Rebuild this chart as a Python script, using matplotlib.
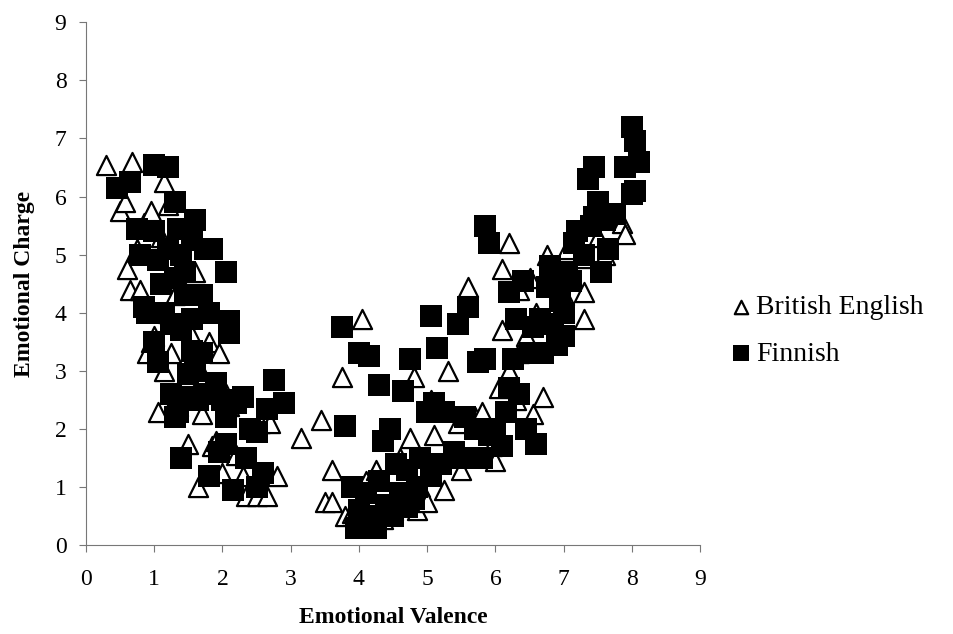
import matplotlib.pyplot as plt

plt.rcParams['font.family'] = ['Liberation Serif', 'DejaVu Serif']

# British English (triangles)
eng_x = [0.3, 0.68, 0.5, 0.58, 0.6, 0.65, 0.8, 0.75, 0.85, 0.95, 1.15, 1.2, 1.1, 0.9, 0.95, 0.9, 1.0,
         1.05, 1.15, 1.25, 1.3, 1.35, 1.4, 1.5, 1.6, 1.7, 1.65, 1.8, 1.85, 1.95, 2.0, 2.05, 2.1, 2.3,
         2.35, 2.5, 2.65, 2.55, 2.7, 2.8, 1.9, 2.2, 1.45, 1.55, 1.2, 1.3, 1.7,
         3.15, 3.45, 3.5, 3.6, 3.6, 3.75, 3.8, 3.9, 4.05, 4.0, 4.1, 4.2, 4.25, 4.35, 4.5, 4.6, 4.75,
         4.8, 4.85, 4.9, 5.0, 5.05, 5.1, 5.25, 5.3, 5.45, 5.5, 5.6, 5.7, 5.8, 5.95, 6.0, 6.05, 6.1,
         6.1, 6.2, 6.3, 6.35, 6.35, 6.5, 6.55, 6.7, 6.75, 6.9, 7.0, 7.05, 7.3, 7.3, 7.3, 7.5, 7.6,
         7.85, 7.9, 6.6, 6.2, 6.45]
eng_y = [6.55, 6.6, 5.75, 5.9, 4.75, 4.4, 4.4, 5.1, 5.55, 5.75, 6.25, 5.85, 5.3, 4.1, 3.5, 3.3, 3.6,
         2.3, 3.0, 3.3, 2.6, 2.4, 4.5, 1.75, 4.7, 2.25, 1.0, 3.5, 1.7, 3.3, 1.25, 2.6, 2.4, 1.2,
         0.85, 0.85, 0.85, 2.1, 2.1, 1.2, 1.8, 1.55, 2.9, 3.6, 4.0, 4.3, 2.95,
         1.85, 2.15, 0.75, 0.75, 1.3, 2.9, 0.5, 0.55, 3.9, 0.45, 1.1, 0.4, 1.3, 0.45, 0.6, 1.5, 1.85,
         2.9, 0.6, 1.0, 0.75, 2.5, 1.9, 0.95, 3.0, 2.1, 1.3, 4.45, 2.2, 2.3, 1.7, 1.45, 2.7, 3.7,
         4.75, 5.2, 2.5, 4.4, 3.3, 4.6, 2.25, 2.55, 5.0, 3.7, 4.3, 5.1, 4.35, 3.9, 4.95, 5.3, 5.0,
         5.55, 5.35, 4.0, 3.0, 3.6]

# Finnish (squares)
fin_x = [0.45, 0.65, 0.75, 0.8, 1.0, 1.2, 1.3, 0.85, 0.9, 1.0, 1.05, 1.1, 1.0, 1.05, 1.2, 1.25, 1.3,
         1.35, 1.4, 1.4, 1.45, 1.5, 1.55, 1.6, 1.55, 1.7, 1.7, 1.75, 1.85, 1.8, 1.3, 1.35, 1.4, 1.25,
         1.5, 1.65, 1.75, 1.8, 1.9, 2.0, 2.05, 2.1, 2.1, 2.05, 2.15, 2.2, 2.3, 2.4, 2.5, 2.5, 2.35,
         2.6, 2.65, 2.75, 2.9, 1.95, 1.15, 1.45, 1.55, 1.6, 2.05,
         3.75, 3.8, 4.0, 4.15, 4.3, 4.75, 4.65, 5.05, 5.15, 5.45, 5.6, 5.75, 5.85, 5.85, 5.9, 3.9,
         4.0, 4.1, 4.2, 4.3, 4.35, 4.4, 4.45, 4.55, 4.6, 4.7, 4.8, 4.9, 5.0, 5.05, 5.1, 5.2, 5.25,
         5.4, 5.5, 5.55, 5.65, 5.7, 5.8, 5.9, 6.0, 3.95, 4.05, 4.25, 4.5, 4.7, 4.85,
         6.1, 6.15, 6.2, 6.2, 6.3, 6.35, 6.4, 6.45, 6.5, 6.55, 6.6, 6.65, 6.7, 6.75, 6.8, 6.85, 6.9,
         7.0, 7.05, 7.1, 7.15, 7.2, 7.3, 7.4, 7.45, 7.5, 7.35, 7.45, 7.6, 7.65, 7.75, 7.9, 8.0, 8.05,
         8.0, 8.05, 8.1, 7.55, 6.95, 6.25, 7.0, 6.85]
fin_y = [6.15, 6.25, 5.45, 5.0, 6.55, 6.5, 5.9, 4.1, 4.0, 5.4, 4.9, 4.5, 3.5, 3.15, 5.1, 3.8, 4.6,
         5.45, 5.0, 3.7, 4.7, 2.55, 5.25, 5.6, 3.9, 4.3, 3.3, 5.1, 5.1, 4.0, 2.2, 2.3, 1.5, 2.6,
         2.95, 2.5, 2.6, 1.2, 2.8, 2.5, 4.7, 3.85, 3.65, 2.2, 0.95, 2.45, 2.55, 2.0, 1.95, 1.0, 1.5,
         1.25, 2.35, 2.85, 2.45, 1.6, 4.0, 4.3, 3.35, 3.0, 1.75,
         3.75, 2.05, 3.3, 3.25, 2.75, 3.2, 2.65, 3.95, 3.4, 3.8, 4.1, 3.15, 3.2, 5.5, 5.2, 1.0,
         0.6, 0.9, 0.5, 1.1, 1.8, 0.7, 2.0, 1.4, 0.9, 1.3, 0.8, 1.5, 2.3, 1.2, 2.45, 1.4, 2.3,
         1.6, 1.5, 2.2, 1.5, 2.0, 1.5, 1.9, 2.0, 0.3, 0.4, 0.3, 0.5, 0.65, 1.0,
         1.7, 2.3, 2.7, 4.35, 3.9, 2.6, 4.55, 2.0, 3.3, 3.75, 1.75, 3.9, 3.3, 4.45, 4.8, 3.8, 3.45,
         4.0, 4.7, 4.55, 5.2, 5.4, 5.0, 5.5, 5.65, 5.9, 6.3, 6.5, 5.6, 5.1, 5.7, 6.5, 6.05, 6.1,
         7.2, 6.95, 6.6, 4.7, 4.2, 3.2, 3.6, 4.5]

fig = plt.figure(figsize=(9.54, 6.34), dpi=100)
ax = fig.add_axes([0.090, 0.140, 0.644, 0.825])

ax.scatter(eng_x, eng_y, marker='^', s=190, facecolors='white', edgecolors='black',
           linewidths=1.6, label='British English', zorder=2)
ax.scatter(fin_x, fin_y, marker='s', s=250, color='black', linewidths=0,
           label='Finnish', zorder=3)

ax.set_xlim(0, 9)
ax.set_ylim(0, 9)
ax.set_xticks(range(10))
ax.set_yticks(range(10))
ax.tick_params(direction='out', length=5, color='#777777', labelsize=17)
ax.tick_params(axis='x', pad=12)
ax.tick_params(axis='y', pad=9)
for s in ['top', 'right']:
    ax.spines[s].set_visible(False)
for s in ['left', 'bottom']:
    ax.spines[s].set_color('#777777')

ax.set_xlabel('Emotional Valence', fontsize=17, fontweight='bold', labelpad=12)
ax.set_ylabel('Emotional Charge', fontsize=17, fontweight='bold', labelpad=14)

leg = ax.legend(loc='center left', bbox_to_anchor=(1.0, 0.41), frameon=False, fontsize=20,
                handletextpad=0.0, labelspacing=0.75, markerscale=0.7, handlelength=1.1)

fig.savefig('out.png', dpi=100)
